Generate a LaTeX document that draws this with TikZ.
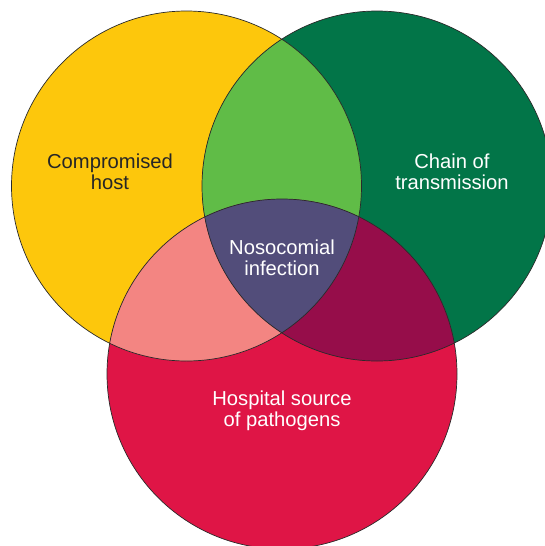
\documentclass[tikz,border=0pt]{standalone}
\usepackage{fontspec}
\setmainfont{Liberation Sans}
\definecolor{hostyellow}{HTML}{FDC70C}
\definecolor{chaingreen}{HTML}{027548}
\definecolor{sourcered}{HTML}{DF1546}
\definecolor{hostchain}{HTML}{60BC47}
\definecolor{hostsource}{HTML}{F38582}
\definecolor{chainsource}{HTML}{960D4A}
\definecolor{allthree}{HTML}{524D7A}
\definecolor{rimgray}{HTML}{2A2A2A}

\begin{document}
\begin{tikzpicture}[
  x=1pt, y=-1pt,
  disc/.style={
    circle, inner sep=0pt,
    minimum size=350pt  % all three circles share one radius
  },
  rim/.style={draw=rimgray, line width=0.7pt},
  caption/.style={
    align=center, inner sep=0pt,
    font=\fontsize{20.2}{21}\selectfont
  }
]
\def\rad{175} % circle radius

\useasboundingbox (0,0) rectangle (545,546);

% --- Circles ---
\node[disc, fill=hostyellow] (host) at (186.5,186) {};
\node[disc, fill=chaingreen] (chain) at (377,186) {};
\node[disc, fill=sourcered] (source) at (282,374) {};

% --- Pairwise overlaps ---
\begin{scope}
  \clip (host.center) circle (\rad);
  \fill[hostchain] (chain.center) circle (\rad);
  \fill[hostsource] (source.center) circle (\rad);
\end{scope}
\begin{scope}
  \clip (chain.center) circle (\rad);
  \fill[chainsource] (source.center) circle (\rad);
\end{scope}

% --- Centre overlap ---
\begin{scope}
  \clip (host.center) circle (\rad);
  \clip (chain.center) circle (\rad);
  \fill[allthree] (source.center) circle (\rad);
\end{scope}

% --- Outlines ---
\foreach \c in {host,chain,source}
  \draw[rim] (\c.center) circle (\rad);

% --- Labels ---
\node[caption, text=black!85] (hostlabel) at (110,172) {Compromised\\host};
\node[caption, text=white] (chainlabel) at (452,172) {Chain of\\transmission};
\node[caption, text=white] (infectionlabel) at (282,258) {Nosocomial\\infection};
\node[caption, text=white] (sourcelabel) at (282,411) {Hospital source\\of pathogens};

\end{tikzpicture}
\end{document}
